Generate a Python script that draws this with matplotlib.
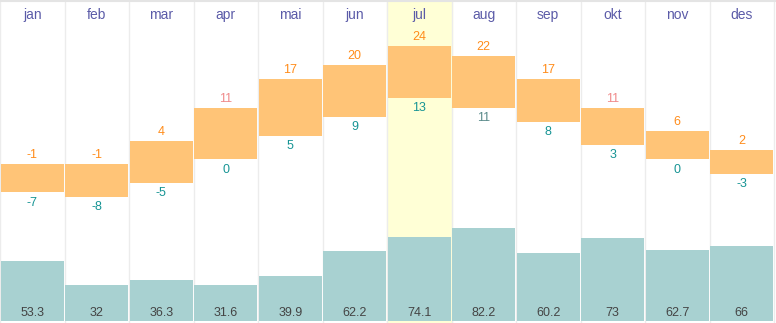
import matplotlib
matplotlib.use('Agg')
from matplotlib import pyplot as plt

months = ['jan', 'feb', 'mar', 'apr', 'mai', 'jun', 'jul', 'aug', 'sep', 'okt', 'nov', 'des']
t_max = [-1, -1, 4, 11, 17, 20, 24, 22, 17, 11, 6, 2]
t_min = [-7, -8, -5, 0, 5, 9, 13, 11, 8, 3, 0, -3]
precip = [53.3, 32, 36.3, 31.6, 39.9, 62.2, 74.1, 82.2, 60.2, 73, 62.7, 66]
highlight = 6

plt.rcParams['font.family'] = ['Liberation Sans', 'DejaVu Sans']

fig = plt.figure(figsize=(7.76, 3.23), dpi=100)
ax = fig.add_axes([0, 0, 1, 1])
ax2 = ax.twinx()
ax.set_zorder(2)
ax2.set_zorder(1)
ax.patch.set_visible(False)

xmax = 776 / 64.5
x = [i + 0.5 for i in range(12)]

# background + grid
ax2.axvspan(highlight, highlight + 1, color='#ffffd6', zorder=0)
for i in range(13):
    ax2.axvline(i, color='#ececec', lw=1, zorder=0.5)
ax2.axhline(283, color='#e4e4e4', lw=1.5)

# precipitation bars
ax2.bar(x, precip, width=0.97, color='#a8d1d1', zorder=1)
ax2.set_ylim(-1.8, 284)
for xi, p in zip(x, precip):
    ax2.text(xi, 7, '%g' % p, ha='center', va='center', fontsize=9, color='#444444')

# temperature bars
heights = [a - b for a, b in zip(t_max, t_min)]
ax.bar(x, heights, bottom=t_min, width=0.97, color='#ffc477', zorder=2)
ax.set_ylim(-34.7, 33.8)
for xi, hi, lo in zip(x, t_max, t_min):
    c = '#f08a8a' if hi == 11 else '#ff8c1a'
    ax.annotate(str(hi), (xi, hi), xytext=(0, 2), textcoords='offset points',
                ha='center', va='bottom', fontsize=9, color=c)
    c2 = '#5a8a8a' if lo == 11 else '#169494'
    ax.annotate(str(lo), (xi, lo), xytext=(0, -3), textcoords='offset points',
                ha='center', va='top', fontsize=9, color=c2)

for xi, m in zip(x, months):
    ax.text(xi, 0.953, m, transform=ax.get_xaxis_transform(), ha='center', va='center',
            fontsize=10, color='#5b5ba8')

for a in (ax, ax2):
    a.set_xlim(0, xmax)
    a.axis('off')

fig.savefig('out.png', dpi=100)
